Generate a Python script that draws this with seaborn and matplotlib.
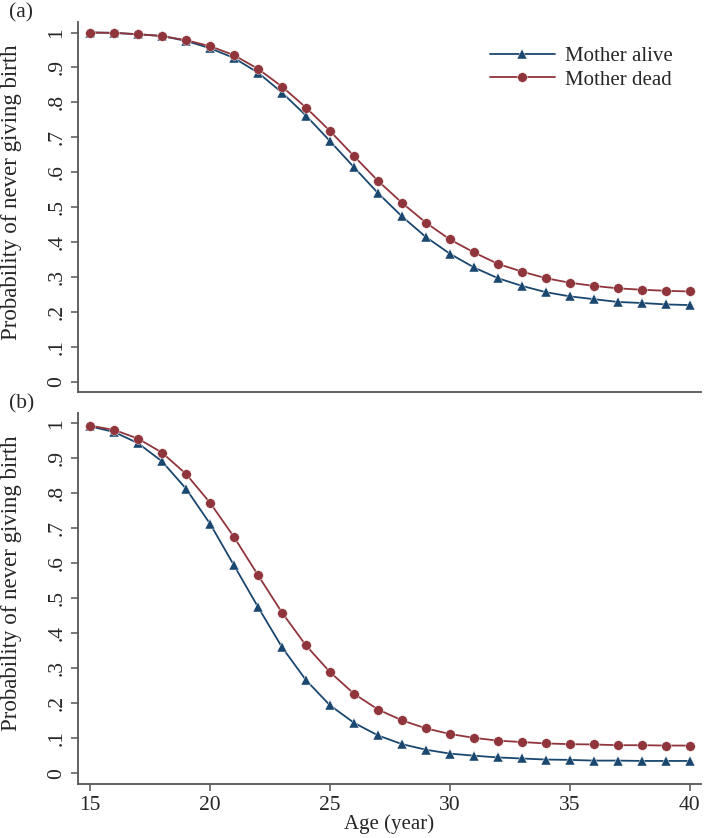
import matplotlib
matplotlib.use("Agg")
import matplotlib.pyplot as plt
import seaborn as sns
import pandas as pd

# ages 15..40
ages = list(range(15, 41))

# panel (a)
alive_a = [1.000, 0.999, 0.995, 0.990, 0.976, 0.955, 0.927, 0.885, 0.828, 0.762,
           0.689, 0.614, 0.540, 0.473, 0.414, 0.366, 0.327, 0.296, 0.274, 0.256,
           0.244, 0.236, 0.228, 0.225, 0.221, 0.219]
dead_a = [1.000, 0.999, 0.995, 0.990, 0.978, 0.961, 0.935, 0.896, 0.845, 0.785,
          0.718, 0.646, 0.575, 0.512, 0.455, 0.407, 0.370, 0.337, 0.315, 0.296,
          0.283, 0.274, 0.267, 0.263, 0.260, 0.258]

# panel (b)
alive_b = [0.991, 0.975, 0.943, 0.891, 0.813, 0.713, 0.594, 0.475, 0.360, 0.266,
           0.194, 0.144, 0.108, 0.083, 0.067, 0.056, 0.050, 0.045, 0.042, 0.039,
           0.038, 0.036, 0.036, 0.035, 0.035, 0.035]
dead_b = [0.993, 0.981, 0.956, 0.916, 0.855, 0.773, 0.675, 0.566, 0.459, 0.365,
          0.289, 0.227, 0.182, 0.151, 0.128, 0.112, 0.101, 0.093, 0.089, 0.085,
          0.083, 0.082, 0.080, 0.080, 0.079, 0.079]

groups = ["Mother alive", "Mother dead"]
yticks = [0, .1, .2, .3, .4, .5, .6, .7, .8, .9, 1]
ytick_labels = ["0", ".1", ".2", ".3", ".4", ".5", ".6", ".7", ".8", ".9", "1"]
xticks = [15, 20, 25, 30, 35, 40]

sns.set_style("white")
plt.rcParams['font.family'] = ['Liberation Serif', 'DejaVu Serif']

palette = {"Mother alive": "#1a476f", "Mother dead": "#90353b"}
markers = {"Mother alive": "^", "Mother dead": "o"}
spine_col = "#555555"


def make_df(alive, dead):
    return pd.DataFrame({
        "age": ages * 2,
        "prob": alive + dead,
        "group": [groups[0]] * len(ages) + [groups[1]] * len(ages),
    })


fig = plt.figure(figsize=(7.04, 8.38), dpi=100)
ax_a = fig.add_axes([0.1108, 0.5322, 0.8849, 0.4415])
ax_b = fig.add_axes([0.1108, 0.0648, 0.8849, 0.4427])

for ax, alive, dead, tag in [(ax_a, alive_a, dead_a, "(a)"), (ax_b, alive_b, dead_b, "(b)")]:
    df = make_df(alive, dead)
    sns.lineplot(data=df, x="age", y="prob", hue="group", style="group",
                 palette=palette, markers=markers, dashes=False, ax=ax,
                 linewidth=1.3, markersize=7, markeredgewidth=0.3,
                 hue_order=groups, style_order=groups)
    ax.set_xlim(14.5, 40.46)
    ax.set_ylim(-0.03, 1.03)
    ax.set_yticks(yticks)
    ax.set_yticklabels(ytick_labels, rotation=90, va="center", fontsize=15.5)
    ax.set_xticks(xticks)
    ax.set_ylabel("Probability of never giving birth", fontsize=16.5)
    ax.yaxis.set_label_coords(-0.09, 0.54)
    ax.set_xlabel("")
    for s in ["top", "right"]:
        ax.spines[s].set_visible(False)
    for s in ["left", "bottom"]:
        ax.spines[s].set_color(spine_col)
        ax.spines[s].set_linewidth(1.3)
    ax.tick_params(axis="both", direction="out", length=5, width=1.1,
                   color=spine_col, left=True, bottom=True, labelsize=15.5)
    ax.text(-0.11, 1.05, tag, transform=ax.transAxes, fontsize=15.5,
            ha="left", va="top")

ax_a.tick_params(axis="x", bottom=False, labelbottom=False)
ax_b.set_xlabel("Age (year)", fontsize=15, labelpad=0)
ax_b.get_legend().remove()

leg = ax_a.legend(loc="upper right", bbox_to_anchor=(0.985, 0.985), frameon=False,
                  fontsize=15, handlelength=3.1, handletextpad=0.5,
                  labelspacing=0.2)

fig.savefig("out.png", dpi=100)
